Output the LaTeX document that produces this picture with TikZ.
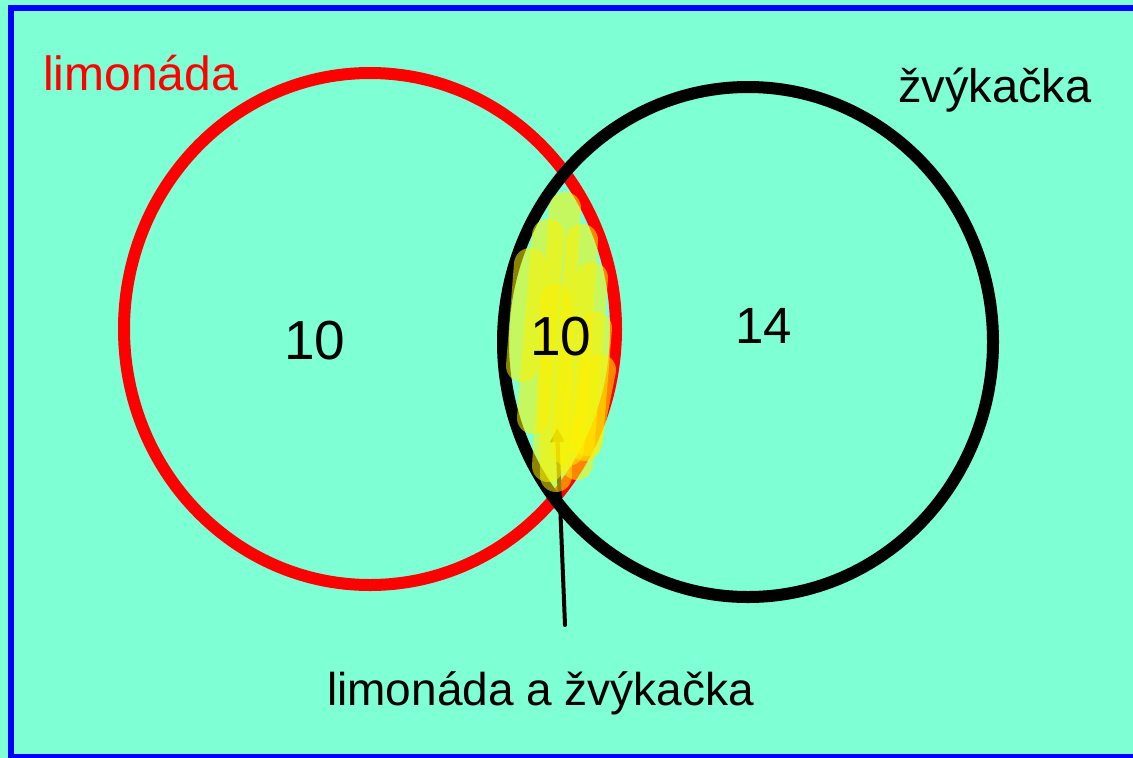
\documentclass[tikz,border=0pt]{standalone}
\usepackage{fontspec}
\setmainfont{Liberation Sans}
\usetikzlibrary{arrows.meta}
\definecolor{vennbg}{RGB}{127,255,212}

\begin{document}
\begin{tikzpicture}[x=1pt,y=-1pt,
    lbl/.style={font=\fontsize{48}{58}\selectfont, inner sep=0pt},
    num/.style={font=\fontsize{55}{66}\selectfont, inner sep=0pt},
    scrib/.style={yellow, line width=32pt, line cap=round, opacity=0.55}]
  \useasboundingbox (0,0) rectangle (1133,758);
  \fill[vennbg] (0,0) rectangle (1133,758);
  \draw[blue, line width=6pt] (11,8) rectangle (1145,757);
  % the two sets
  \draw[red, line width=12pt] (370,329) ellipse (246 and 256);
  \draw[black, line width=12pt] (748,342) ellipse (245 and 255);
  % pointer into the middle
  \coordinate (tail) at (565,625);
  \coordinate (tip) at (557,428);
  \draw[-{Triangle[length=14pt,width=14pt]}, line width=4pt, line cap=round] (tail) -- (tip);
  % yellow highlight
  \draw[scrib] (565,208) -- (548,466);
  \draw[scrib] (548,235) -- (533,418);
  \draw[scrib] (582,240) -- (568,450);
  \draw[scrib] (592,278) -- (577,464);
  \draw[scrib] (530,264) -- (522,366);
  \draw[scrib] (596,328) -- (587,440);
  \draw[scrib] (600,370) -- (585,445);
  \draw[scrib] (556,300) -- (556,476);
  % labels
  \node[lbl, red, anchor=base west] (setA) at (43,90) {limonáda};
  \node[lbl, font=\fontsize{47}{56}\selectfont, anchor=base west] (setB) at (898,102) {žvýkačka};
  \node[num, anchor=base west] (onlyA) at (284,359) {10};
  \node[num, anchor=base west] (both) at (530,355) {10};
  \node[num, font=\fontsize{51}{61}\selectfont, anchor=base west] (onlyB) at (735,343) {14};
  \node[lbl, font=\fontsize{46}{55}\selectfont, anchor=base west] (bothlbl) at (327,705) {limonáda a žvýkačka};
\end{tikzpicture}
\end{document}
